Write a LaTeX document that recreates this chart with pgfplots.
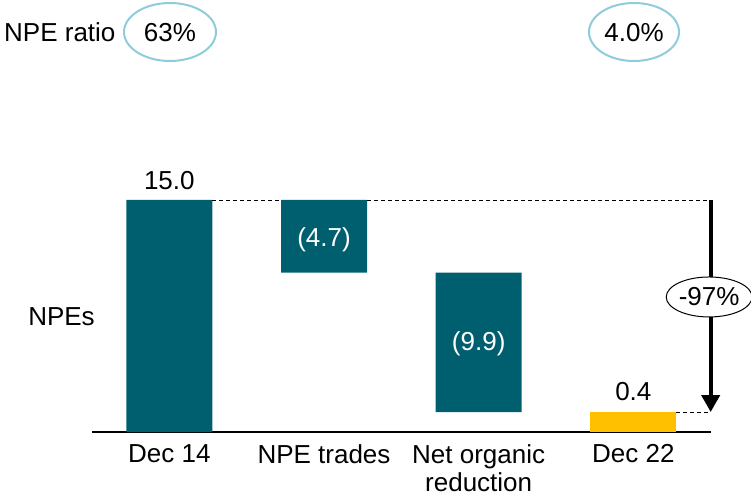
\documentclass[border=0pt]{standalone}
\usepackage{pgfplots}
\pgfplotsset{compat=1.18}
\usepackage{fontspec}
\setmainfont{Liberation Sans}
\usetikzlibrary{arrows.meta,shapes.geometric}
\definecolor{npeteal}{RGB}{0,95,111}
\definecolor{npegold}{RGB}{255,192,0}
\definecolor{ratioblue}{RGB}{143,204,219}
\begin{document}
\begin{tikzpicture}[every node/.style={font=\fontsize{26}{28}\selectfont}]
\path[use as bounding box] (0,0) rectangle (751pt,496pt);
% NPE ratio row
\node[anchor=base west, inner sep=0pt] at (4pt,454pt) {NPE ratio};
\draw[ratioblue, line width=2pt] (170pt,464pt) ellipse [x radius=46pt, y radius=29pt];
\node[anchor=base, inner sep=0pt] at (170pt,454pt) {63\%};
\draw[ratioblue, line width=2pt] (634pt,464pt) ellipse [x radius=45pt, y radius=29pt];
\node[anchor=base, inner sep=0pt] at (634pt,454pt) {4.0\%};
% y label
\node[anchor=base, inner sep=0pt] at (61.5pt,171pt) {NPEs};
\begin{axis}[
  at={(92pt,64pt)}, anchor=south west,
  x=154.67pt, y=15.467pt,
  xmin=-0.5, xmax=3.5, ymin=0, ymax=16,
  axis x line=bottom, axis y line=none,
  axis line style={-, line width=1.5pt, black},
  xtick={0,1,2,3},
  xticklabels={Dec 14, NPE trades, {Net organic\\reduction}, Dec 22},
  xticklabel style={align=center, inner sep=0pt, anchor=north, font=\fontsize{26}{28}\selectfont},
  xticklabel shift=12pt,
  major tick length=0pt,
  ybar stacked, bar width=86pt,
  clip=false,
]
\addplot[draw=none, fill=none, forget plot] coordinates {(0,0) (1,10.3) (2,1.29) (3,0)};
\addplot[fill=npeteal, draw=none] coordinates {(0,15) (1,4.7) (2,9.01) (3,0)};
\addplot[fill=npegold, draw=none] coordinates {(0,0) (1,0) (2,0) (3,1.29)};
\coordinate (d1a) at (axis cs:0.278,15);
\coordinate (d1b) at (axis cs:0.722,15);
\coordinate (d2a) at (axis cs:1.278,15);
\coordinate (d2b) at (axis cs:3.5,15);
\coordinate (d3a) at (axis cs:3.278,1.29);
\coordinate (d3b) at (axis cs:3.5,1.29);
\coordinate (el) at (axis cs:3.49,8.73);
\coordinate (l1) at (axis cs:0,15.65);
\coordinate (l2) at (axis cs:1,12.41);
\coordinate (l3) at (axis cs:2,5.69);
\coordinate (l4) at (axis cs:3,2.02);
\end{axis}
% connectors
\draw[dash pattern=on 4pt off 3pt, line width=0.8pt] (d1a) -- (d1b);
\draw[dash pattern=on 4pt off 3pt, line width=0.8pt] (d2a) -- (d2b);
\draw[dash pattern=on 4pt off 3pt, line width=0.8pt] (d3a) -- (d3b);
\draw[line width=4pt, -{Triangle[width=18pt,length=17pt]}] (d2b) -- (d3b);
\node[draw, ellipse, fill=white, line width=1pt, minimum width=84pt, minimum height=40pt, inner sep=0pt] at (el) {-97\%};
% value labels
\node[anchor=base, inner sep=0pt] at (l1) {15.0};
\node[text=white, inner sep=0pt] at (l2) {(4.7)};
\node[text=white, inner sep=0pt] at (l3) {(9.9)};
\node[anchor=base, inner sep=0pt] at (l4) {0.4};
\end{tikzpicture}
\end{document}
